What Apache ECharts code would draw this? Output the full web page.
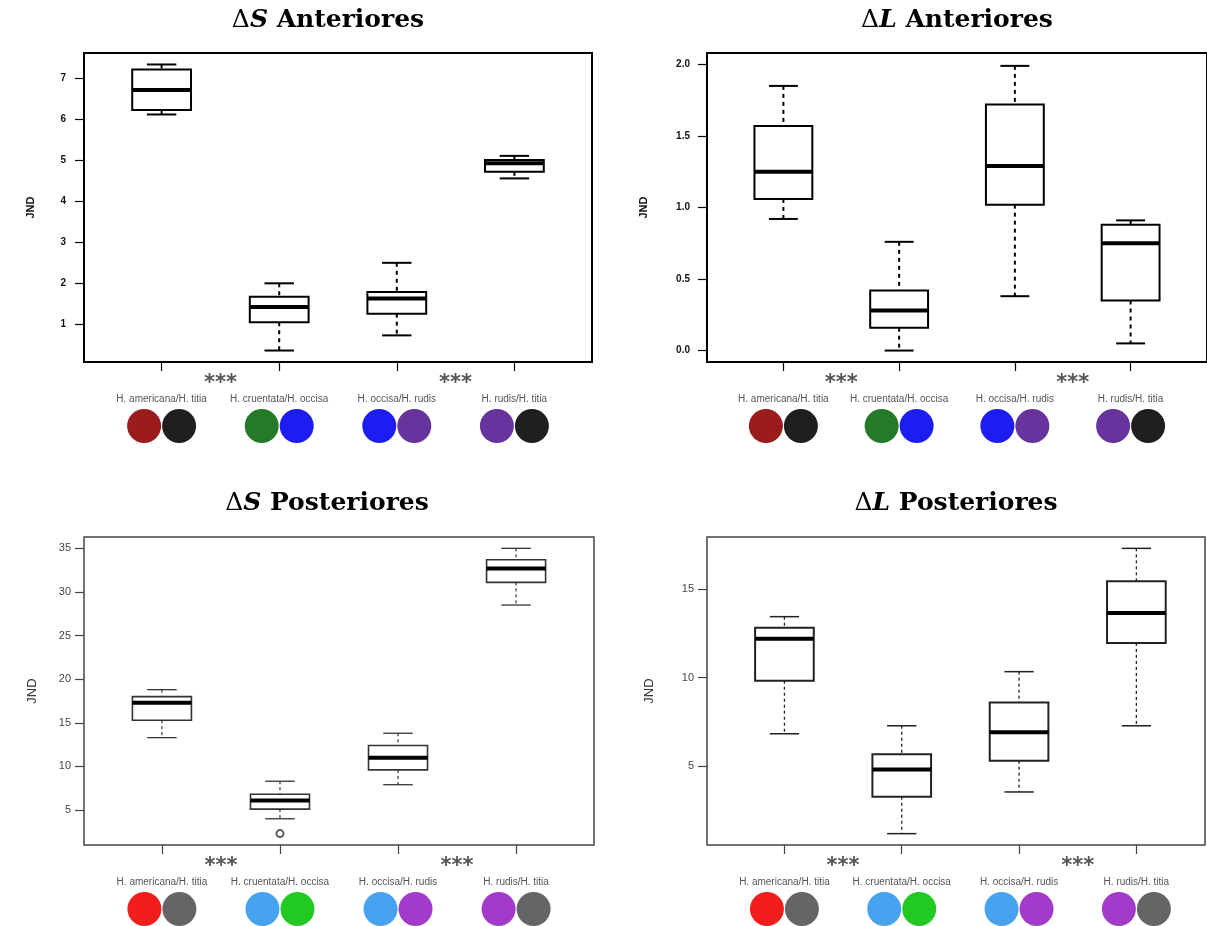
<!DOCTYPE html>
<html>
<head>
<meta charset="utf-8">
<script src="https://cdn.jsdelivr.net/npm/echarts@6/dist/echarts.min.js"></script>
<style>
  html, body { margin: 0; padding: 0; background: #fff; }
  #chart { width: 1207px; height: 926px; }
</style>
</head>
<body>
<div id="chart"></div>
<script>
// Species pairs compared on the x axis
const categories = ['H. americana/H. titia', 'H. cruentata/H. occisa', 'H. occisa/H. rudis', 'H. rudis/H. titia'];

// Box statistics per pair: [lower whisker, Q1, median, Q3, upper whisker]
const anteriorS = [[6.12, 6.23, 6.72, 7.22, 7.34], [0.36, 1.05, 1.42, 1.67, 2.0], [0.73, 1.26, 1.63, 1.79, 2.5], [4.56, 4.72, 4.93, 5.01, 5.11]];
const anteriorL = [[0.92, 1.06, 1.25, 1.57, 1.85], [0.0, 0.16, 0.28, 0.42, 0.76], [0.38, 1.02, 1.29, 1.72, 1.99], [0.05, 0.35, 0.75, 0.88, 0.91]];
const posteriorS = [[13.3, 15.3, 17.3, 18.0, 18.8], [4.0, 5.1, 6.1, 6.8, 8.3], [7.9, 9.6, 11.0, 12.4, 13.8], [28.5, 31.1, 32.7, 33.7, 35.0]];
const posteriorL = [[6.84, 9.83, 12.19, 12.82, 13.44], [1.21, 3.29, 4.83, 5.68, 7.29], [3.56, 5.32, 6.93, 8.6, 10.34], [7.29, 11.96, 13.65, 15.43, 17.29]];
// Outlying points [pair position, value]
const posteriorSOutliers = [[2, 2.3]];

// Y tick labels
const ticksAnteriorS = [1, 2, 3, 4, 5, 6, 7];
const ticksAnteriorL = [0, 0.5, 1, 1.5, 2];
const ticksPosteriorS = [5, 10, 15, 20, 25, 30, 35];
const ticksPosteriorL = [5, 10, 15];

// Significance marks between pairs
const starPositions = [1.5, 3.5];
const starText = '***';

// Colour swatches of each species pair
const anteriorSwatches = [['#9a1c1c', '#1f1f1f'], ['#247a26', '#1d1df2'], ['#1d1df2', '#66349c'], ['#66349c', '#1f1f1f']];
const posteriorSwatches = [['#f21d1d', '#656565'], ['#47a2f0', '#22c922'], ['#47a2f0', '#a23bca'], ['#a23bca', '#656565']];

const chart = echarts.init(document.getElementById('chart'));

function boxRenderer(st) {
  return function (params, api) {
    const x = api.value(0);
    const pts = [1, 2, 3, 4, 5].map(i => api.coord([x, api.value(i)]));
    const cx = pts[0][0];
    const [lo, q1, md, q3, hi] = pts.map(p => p[1]);
    const half = api.size([0.5, 0])[0] / 2;
    const cap = half / 2;
    const whisk = { stroke: st.color, lineWidth: st.whiskerWidth, lineDash: st.dash };
    const solid = { stroke: st.color, lineWidth: st.capWidth };
    return {
      type: 'group',
      children: [
        { type: 'line', shape: { x1: cx, y1: hi, x2: cx, y2: q3 }, style: whisk },
        { type: 'line', shape: { x1: cx, y1: q1, x2: cx, y2: lo }, style: whisk },
        { type: 'line', shape: { x1: cx - cap, y1: hi, x2: cx + cap, y2: hi }, style: solid },
        { type: 'line', shape: { x1: cx - cap, y1: lo, x2: cx + cap, y2: lo }, style: solid },
        { type: 'rect', shape: { x: cx - half, y: q3, width: 2 * half, height: q1 - q3 },
          style: { fill: '#fff', stroke: st.color, lineWidth: st.boxWidth } },
        { type: 'line', shape: { x1: cx - half, y1: md, x2: cx + half, y2: md },
          style: { stroke: '#000', lineWidth: st.medianWidth } }
      ]
    };
  };
}

const panels = [
  { title: 'S', word: ' Anteriores', titleX: 323, titleY: 3, titleFont: 'DejaVu Serif', titleSize: 25,
    grid: { left: 84, top: 53, width: 508, height: 309 }, xMax: 4.66,
    yMin: 0.08, yMax: 7.62, ticks: ticksAnteriorS, dec: 0, stats: anteriorS, swatches: anteriorSwatches,
    frame: '#000', frameWidth: 2, tickColor: '#000', labelColor: '#111', labelSize: 10, labelWeight: 'bold',
    labelMargin: 18, nameGap: 48, nameColor: '#111', nameSize: 11, nameWeight: 'bold',
    box: { color: '#000', whiskerWidth: 2, dash: [4, 4], capWidth: 2, boxWidth: 2, medianWidth: 4 } },
  { title: 'L', word: ' Anteriores', titleX: 952, titleY: 3, titleFont: 'DejaVu Serif', titleSize: 25,
    grid: { left: 707, top: 53, width: 507, height: 309 }, xMax: 4.66,
    yMin: -0.08, yMax: 2.08, ticks: ticksAnteriorL, dec: 1, stats: anteriorL, swatches: anteriorSwatches,
    frame: '#000', frameWidth: 2, tickColor: '#000', labelColor: '#111', labelSize: 10, labelWeight: 'bold',
    labelMargin: 17, nameGap: 58, nameColor: '#111', nameSize: 11, nameWeight: 'bold',
    box: { color: '#000', whiskerWidth: 2, dash: [4, 4], capWidth: 2, boxWidth: 2, medianWidth: 4 } },
  { title: 'S', word: ' Posteriores', titleX: 322, titleY: 486, titleFont: 'DejaVu Serif', titleSize: 25,
    grid: { left: 84, top: 537, width: 510, height: 308 }, xMax: 4.66,
    yMin: 0.99, yMax: 36.3, ticks: ticksPosteriorS, dec: 0, stats: posteriorS, swatches: posteriorSwatches,
    outliers: posteriorSOutliers,
    frame: '#444', frameWidth: 1.5, tickColor: '#444', labelColor: '#444', labelSize: 11, labelWeight: 'normal',
    labelMargin: 13, nameGap: 45, nameColor: '#333', nameSize: 13, nameWeight: 'normal',
    box: { color: '#333', whiskerWidth: 1.2, dash: [3, 3], capWidth: 1.3, boxWidth: 1.6, medianWidth: 4 } },
  { title: 'L', word: ' Posteriores', titleX: 951, titleY: 486, titleFont: 'DejaVu Serif', titleSize: 25,
    grid: { left: 707, top: 537, width: 498, height: 308 }, xMax: 4.585,
    yMin: 0.57, yMax: 17.93, ticks: ticksPosteriorL, dec: 0, stats: posteriorL, swatches: posteriorSwatches,
    frame: '#444', frameWidth: 1.5, tickColor: '#444', labelColor: '#444', labelSize: 11, labelWeight: 'normal',
    labelMargin: 13, nameGap: 51, nameColor: '#333', nameSize: 13, nameWeight: 'normal',
    box: { color: '#222', whiskerWidth: 1.3, dash: [3, 3], capWidth: 1.5, boxWidth: 2, medianWidth: 4 } }
];

const option = { animation: false, backgroundColor: '#fff', title: [], grid: [], xAxis: [], yAxis: [], series: [] };

panels.forEach((p, gi) => {
  option.title.push({
    text: '{d|Δ}{v|' + p.title + '}{w|' + p.word + '}',
    left: p.titleX, top: p.titleY, textAlign: 'center',
    textStyle: {
      rich: {
        d: { fontFamily: p.titleFont, fontSize: p.titleSize, fontWeight: 'normal', color: '#000' },
        v: { fontFamily: p.titleFont, fontSize: p.titleSize, fontWeight: 'bold', fontStyle: 'italic', color: '#000' },
        w: { fontFamily: p.titleFont, fontSize: p.titleSize, fontWeight: 'bold', color: '#000' }
      }
    }
  });

  option.grid.push(Object.assign({ show: true, borderColor: p.frame, borderWidth: p.frameWidth, backgroundColor: 'transparent' }, p.grid));

  const rich = {
    t: { fontFamily: 'Liberation Sans', fontSize: 10, color: '#555', lineHeight: 16, padding: [0, 0, 3, 0] },
    s: { width: 1, height: 34 }
  };
  p.swatches.forEach((pair, i) => {
    rich['a' + (i + 1)] = { width: 34, height: 34, borderRadius: 17, backgroundColor: pair[0] };
    rich['b' + (i + 1)] = { width: 34, height: 34, borderRadius: 17, backgroundColor: pair[1] };
  });

  // category axis: ticks and pair labels with colour swatches
  option.xAxis.push({
    gridIndex: gi, type: 'value', min: 0.34, max: p.xMax, position: 'bottom',
    axisLine: { show: false, onZero: false }, splitLine: { show: false },
    axisTick: { show: true, customValues: [1, 2, 3, 4], length: 9, lineStyle: { color: p.tickColor, width: 1.2 } },
    axisLabel: {
      show: true, customValues: [1, 2, 3, 4], margin: 31, align: 'center',
      formatter: v => '{t|' + categories[v - 1] + '}\n{a' + v + '|}{s|}{b' + v + '|}',
      rich: rich
    }
  });
  // significance marks
  option.xAxis.push({
    gridIndex: gi, type: 'value', min: 0.34, max: p.xMax, position: 'bottom',
    axisLine: { show: false, onZero: false }, splitLine: { show: false }, axisTick: { show: false },
    axisLabel: {
      show: true, customValues: starPositions, margin: 11, formatter: () => starText,
      fontFamily: 'DejaVu Sans', fontSize: 21, fontWeight: 'bold', color: '#555'
    }
  });

  option.yAxis.push({
    gridIndex: gi, type: 'value', min: p.yMin, max: p.yMax,
    name: 'JND', nameLocation: 'middle', nameGap: p.nameGap,
    nameTextStyle: { fontFamily: 'Liberation Sans', fontSize: p.nameSize, fontWeight: p.nameWeight, color: p.nameColor },
    axisLine: { show: false, onZero: false }, splitLine: { show: false },
    axisTick: { show: true, customValues: p.ticks, length: 9, lineStyle: { color: p.tickColor, width: 1.2 } },
    axisLabel: {
      show: true, customValues: p.ticks, margin: p.labelMargin,
      formatter: v => Number(v).toFixed(p.dec),
      fontFamily: 'Liberation Sans', fontSize: p.labelSize, fontWeight: p.labelWeight, color: p.labelColor
    }
  });

  option.series.push({
    type: 'custom', xAxisIndex: gi * 2, yAxisIndex: gi,
    renderItem: boxRenderer(p.box),
    encode: { x: 0, y: [1, 2, 3, 4, 5] },
    data: p.stats.map((s, i) => [i + 1].concat(s)),
    z: 3
  });

  if (p.outliers) {
    option.series.push({
      type: 'scatter', xAxisIndex: gi * 2, yAxisIndex: gi,
      data: p.outliers, symbol: 'emptyCircle', symbolSize: 7,
      itemStyle: { color: '#333', borderColor: '#333', borderWidth: 1.3 }, z: 4
    });
  }
});

chart.setOption(option);
</script>
</body>
</html>
